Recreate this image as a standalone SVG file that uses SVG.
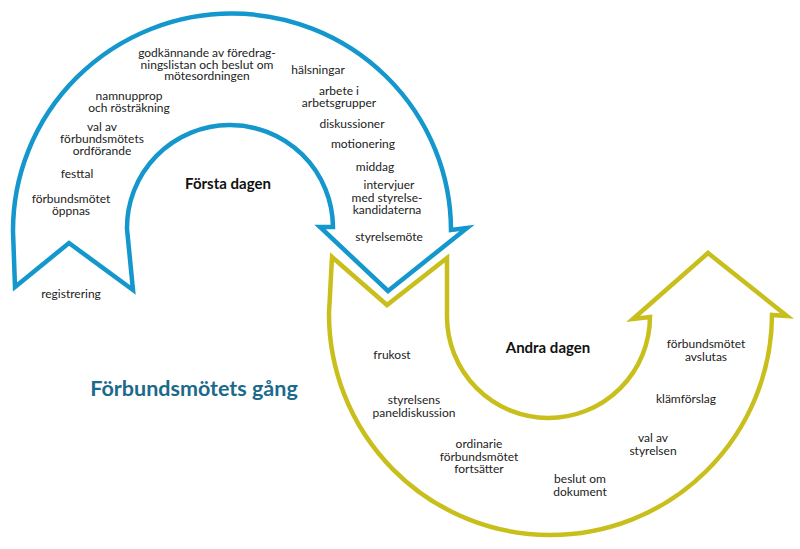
<svg xmlns="http://www.w3.org/2000/svg" width="800" height="549" viewBox="0 0 800 549">
<style>
.arrow{fill:#fff;stroke-width:4.5;stroke-linejoin:miter;stroke-miterlimit:10}
.blue{stroke:#1497cc}
.yellow{stroke:#c9bf1c}
.lbl{font-family:Lato,"Liberation Sans",sans-serif;font-size:12px;fill:#222;text-anchor:middle}
.day{font-family:Lato,"Liberation Sans",sans-serif;font-size:15px;font-weight:bold;fill:#111;text-anchor:middle}
.title{font-family:Lato,"Liberation Sans",sans-serif;font-size:21.5px;font-weight:bold;fill:#1b6a8c;text-anchor:middle}
</style>
<rect width="800" height="549" fill="#fff"/>
<g id="shapes">
<g id="dag1-pil"><path class="arrow blue" d="M15,287 L69,243 L133,290 L127,229 A103,103 0 0 1 333,227 L320,227 L388,291 L467,228 L451,230 A219,217 0 0 0 13,231 Z"/></g>
<g id="dag2-pil"><path class="arrow yellow" d="M332,257 L387,305 L447,258 L447,316 A101.5,101.5 0 0 0 650,317 L633,319 L708,253 L787,316 L772,315 A221.5,221 0 0 1 329,313 Z"/></g>
</g>
<g id="title"><text class="title" x="194" y="396">Förbundsmötets gång</text></g>
<g id="forsta-dagen"><text class="day" x="228" y="189">Första dagen</text></g>
<g id="andra-dagen"><text class="day" x="548" y="353">Andra dagen</text></g>
<g id="registrering"><text class="lbl" x="71" y="298">registrering</text></g>
<g id="oppnas"><text class="lbl" x="71" y="203">förbundsmötet<tspan x="71" dy="12">öppnas</tspan></text></g>
<g id="festtal"><text class="lbl" x="77" y="178">festtal</text></g>
<g id="ordforande"><text class="lbl" x="102" y="131">val av<tspan x="102" dy="12">förbundsmötets</tspan><tspan x="102" dy="12">ordförande</tspan></text></g>
<g id="namnupprop"><text class="lbl" x="129" y="100">namnupprop<tspan x="129" dy="12">och rösträkning</tspan></text></g>
<g id="godkannande"><text class="lbl" x="207" y="57">godkännande av föredrag-<tspan x="207" dy="11.5">ningslistan och beslut om</tspan><tspan x="207" dy="11.5">mötesordningen</tspan></text></g>
<g id="halsningar"><text class="lbl" x="318" y="74">hälsningar</text></g>
<g id="arbetsgrupper"><text class="lbl" x="339" y="95">arbete i<tspan x="339" dy="12">arbetsgrupper</tspan></text></g>
<g id="diskussioner"><text class="lbl" x="352" y="128">diskussioner</text></g>
<g id="motionering"><text class="lbl" x="363" y="148">motionering</text></g>
<g id="middag"><text class="lbl" x="375" y="171">middag</text></g>
<g id="intervjuer"><text class="lbl" x="389" y="189">intervjuer<tspan x="387" dy="12.5">med styrelse-</tspan><tspan x="387" dy="12.5">kandidaterna</tspan></text></g>
<g id="styrelsemote"><text class="lbl" x="389" y="241">styrelsemöte</text></g>
<g id="frukost"><text class="lbl" x="392" y="359">frukost</text></g>
<g id="paneldiskussion"><text class="lbl" x="414" y="404">styrelsens<tspan x="414" dy="13">paneldiskussion</tspan></text></g>
<g id="fortsatter"><text class="lbl" x="479" y="448">ordinarie<tspan x="479" dy="12.5">förbundsmötet</tspan><tspan x="479" dy="12.5">fortsätter</tspan></text></g>
<g id="dokument"><text class="lbl" x="580" y="483">beslut om<tspan x="580" dy="12.5">dokument</tspan></text></g>
<g id="val-styrelsen"><text class="lbl" x="653" y="442">val av<tspan x="653" dy="12.5">styrelsen</tspan></text></g>
<g id="klamforslag"><text class="lbl" x="686" y="403">klämförslag</text></g>
<g id="avslutas"><text class="lbl" x="706" y="348">förbundsmötet<tspan x="706" dy="13">avslutas</tspan></text></g>
</svg>
